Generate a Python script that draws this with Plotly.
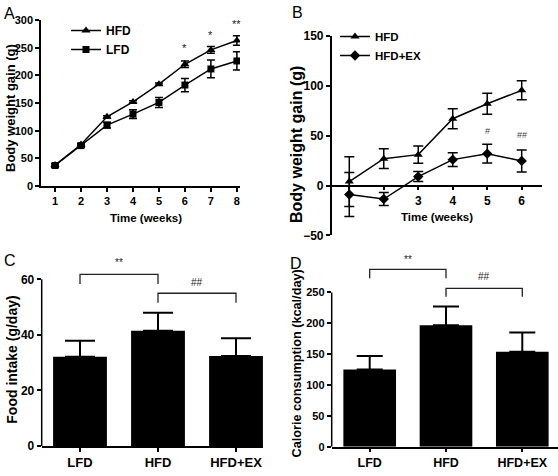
import plotly.graph_objects as go

W, H = 558, 476
FONT = "Arial, 'Liberation Sans', sans-serif"

# ---------------- data ----------------
# Panel A
weeks_a = [1, 2, 3, 4, 5, 6, 7, 8]
hfd_a = [38, 75, 125, 152, 184, 220, 246, 263]
hfd_a_err = [2, 2, 2, 2, 2, 6, 6, 8.5]
lfd_a = [37, 73, 110, 130, 151, 182.5, 211.5, 226]
lfd_a_err = [3, 3, 5, 8, 9, 12, 16, 16.5]
sig_a_weeks = [6, 7, 8]
sig_a_y = [249, 273, 292]
sig_a_text = ["*", "*", "**"]
a_ticks = [1, 2, 3, 4, 5, 6, 7, 8]

# Panel B
weeks_b = [1, 2, 3, 4, 5, 6]
hfd_b = [4, 27, 31, 67, 82, 95.5]
hfd_b_err = [25, 10, 8.7, 10, 10.5, 9.5]
hfdex_b = [-9, -13.5, 9, 26, 32, 24.7]
hfdex_b_err = [22, 6.5, 5, 7, 9.3, 11]
sig_b_weeks = [5, 6]
sig_b_y = [55, 51]
sig_b_text = ["#", "##"]
b_tick_labels = ["", "", "3", "4", "5", "6"]

# Panels C and D
groups = ["LFD", "HFD", "HFD+EX"]
food = [32.1, 41.5, 32.4]
food_err = [5.8, 6.5, 6.4]
calorie = [125, 197, 154]
calorie_err = [22, 30, 31]
# brackets: (from group, to group, top, leg bottom, label, label y)
c_brackets = [(0, 1, 61.8, 58.3, "**", 66.0), (1, 2, 55.0, 51.6, "##", 58.8)]
d_brackets = [(0, 1, 287.5, 273, "**", 304), (1, 2, 256.7, 243, "##", 275.5)]

# ---------------- figure ----------------
fig = go.Figure()
xg = list(range(len(groups)))

def errs(arr, t=1.5, w=4):
    return dict(type="data", array=arr, visible=True, color="black", thickness=t, width=w)

fig.add_trace(go.Scatter(x=weeks_a, y=hfd_a, name="HFD", mode="lines+markers",
                         line=dict(color="black", width=1.5),
                         marker=dict(symbol="triangle-up", size=8, color="black"),
                         error_y=errs(hfd_a_err), xaxis="x", yaxis="y", legend="legend"))
fig.add_trace(go.Scatter(x=weeks_a, y=lfd_a, name="LFD", mode="lines+markers",
                         line=dict(color="black", width=1.5),
                         marker=dict(symbol="square", size=7, color="black"),
                         error_y=errs(lfd_a_err), xaxis="x", yaxis="y", legend="legend"))

fig.add_trace(go.Scatter(x=weeks_b, y=hfd_b, name="HFD", mode="lines+markers",
                         line=dict(color="black", width=1.5),
                         marker=dict(symbol="triangle-up", size=8, color="black"),
                         error_y=errs(hfd_b_err, 1.5, 5), xaxis="x2", yaxis="y2", legend="legend2"))
fig.add_trace(go.Scatter(x=weeks_b, y=hfdex_b, name="HFD+EX", mode="lines+markers",
                         line=dict(color="black", width=1.5),
                         marker=dict(symbol="diamond", size=8, color="black"),
                         error_y=errs(hfdex_b_err, 1.5, 5), xaxis="x2", yaxis="y2", legend="legend2"))

fig.add_trace(go.Bar(x=xg, y=food, width=0.69, marker=dict(color="black", line=dict(width=0)),
                     error_y=dict(type="data", symmetric=False, array=food_err,
                                  arrayminus=[0] * len(food), color="black", thickness=2, width=15),
                     xaxis="x3", yaxis="y3", showlegend=False))
fig.add_trace(go.Bar(x=xg, y=calorie, width=0.69, marker=dict(color="black", line=dict(width=0)),
                     error_y=dict(type="data", symmetric=False, array=calorie_err,
                                  arrayminus=[0] * len(calorie), color="black", thickness=2, width=13),
                     xaxis="x4", yaxis="y4", showlegend=False))

tickf = dict(family=FONT, size=11, color="black", weight="bold")
common = dict(showgrid=False, zeroline=False, showline=True, linecolor="black", linewidth=1.5,
              ticks="outside", ticklen=4, tickwidth=1.5, tickcolor="black", automargin=False,
              tickfont=tickf, fixedrange=True)

fig.update_layout(
    width=W, height=H, margin=dict(l=0, r=0, t=0, b=0), autosize=False,
    paper_bgcolor="white", plot_bgcolor="white", font=dict(family=FONT, color="black"),
    xaxis=dict(domain=[41 / W, 240 / W], range=[0.46, 8.12], tickvals=a_ticks, anchor="y", **common),
    yaxis=dict(domain=[1 - 186 / H, 1 - 20 / H], range=[0, 300], tickvals=[0, 50, 100, 150, 200, 250, 300],
               anchor="x", **common),
    xaxis2=dict(domain=[331.7 / W, 541.7 / W], range=[0.49, 6.58], tickvals=weeks_b, ticktext=b_tick_labels,
                anchor="free", position=1 - 185.7 / H, **{**common, "tickfont": {**tickf, "size": 12}}),
    yaxis2=dict(domain=[1 - 235.4 / H, 1 - 36 / H], range=[-50, 150], tickvals=[-50, 0, 50, 100, 150],
                anchor="x2", **{**common, "tickfont": {**tickf, "size": 12}}),
    xaxis3=dict(domain=[41.7 / W, 263 / W], range=[-0.491, 2.346], tickvals=xg, ticktext=groups,
                anchor="y3", **{**common, "tickfont": {**tickf, "size": 13}}),
    yaxis3=dict(domain=[1 - 446 / H, 1 - 259.9 / H], range=[0, 67], tickvals=[0, 20, 40, 60],
                anchor="x3", **{**common, "showline": False, "tickfont": {**tickf, "size": 12}}),
    xaxis4=dict(domain=[331.7 / W, 1.0], range=[-0.498, 2.468], tickvals=xg, ticktext=groups,
                anchor="y4", **{**common, "tickfont": {**tickf, "size": 12.5}}),
    yaxis4=dict(domain=[1 - 446.7 / H, 1 - 255.4 / H], range=[0, 310], tickvals=[0, 50, 100, 150, 200, 250],
                anchor="x4", **{**common, "showline": False}),
    barmode="overlay",
    legend=dict(x=66 / W, y=1 - 16 / H, xanchor="left", yanchor="top", bgcolor="rgba(0,0,0,0)",
                font=dict(family=FONT, size=12, color="black", weight="bold"), itemwidth=30,
                tracegroupgap=0),
    legend2=dict(x=335 / W, y=1 - 22 / H, xanchor="left", yanchor="top", bgcolor="rgba(0,0,0,0)",
                 font=dict(family=FONT, size=11.5, color="black", weight="bold"), itemwidth=30,
                 tracegroupgap=0),
)

shapes = []
# y-axis lines for bar panels (axis range extended for brackets)
shapes.append(dict(type="line", xref="x3 domain", yref="y3", x0=0, x1=0, y0=0, y1=60,
                   line=dict(color="black", width=1.5)))
shapes.append(dict(type="line", xref="x4 domain", yref="y4", x0=0, x1=0, y0=0, y1=250,
                   line=dict(color="black", width=1.5)))

annotations = []
for xr, yr, brs in (("x3", "y3", c_brackets), ("x4", "y4", d_brackets)):
    for g0, g1, top, leg, lab, ly in brs:
        shapes.append(dict(type="path", xref=xr, yref=yr,
                           path=f"M{g0},{leg} L{g0},{top} L{g1},{top} L{g1},{leg}",
                           line=dict(color="#222", width=1.3)))
        annotations.append(dict(x=(g0 + g1) / 2, y=ly, xref=xr, yref=yr, text=lab, showarrow=False,
                                font=dict(family=FONT, size=10, color="#222")))

for xv, yv, t in zip(sig_a_weeks, sig_a_y, sig_a_text):
    annotations.append(dict(x=xv, y=yv, xref="x", yref="y", text=t, showarrow=False,
                            font=dict(family=FONT, size=11, color="#222")))
for xv, yv, t in zip(sig_b_weeks, sig_b_y, sig_b_text):
    annotations.append(dict(x=xv, y=yv, xref="x2", yref="y2", text=t, showarrow=False,
                            font=dict(family=FONT, size=9, color="#444")))

def ptxt(text, x, y, size, angle=0, bold=True):
    annotations.append(dict(text=text, x=x / W, y=1 - y / H, xref="paper", yref="paper",
                            showarrow=False, textangle=angle, xanchor="center", yanchor="middle",
                            font=dict(family=FONT, size=size, color="black",
                                      weight="bold" if bold else "normal")))

# axis titles
ptxt("Body weight gain (g)", 11, 108, 13, -90)
ptxt("Time (weeks)", 146, 218, 11.5)
ptxt("Body weight gain (g)", 296, 145, 16, -90)
ptxt("Time (weeks)", 437, 216.7, 11.5)
ptxt("Food intake (g/day)", 11.7, 360, 14, -90)
ptxt("Calorie consumption (kcal/day)", 296.5, 364, 12.7, -90)
# panel letters
ptxt("A", 9, 13, 16, bold=False)
ptxt("B", 297, 12, 16, bold=False)
ptxt("C", 10, 260, 16, bold=False)
ptxt("D", 296, 263, 16, bold=False)

fig.update_layout(shapes=shapes, annotations=annotations)
fig.write_html("out.html")
